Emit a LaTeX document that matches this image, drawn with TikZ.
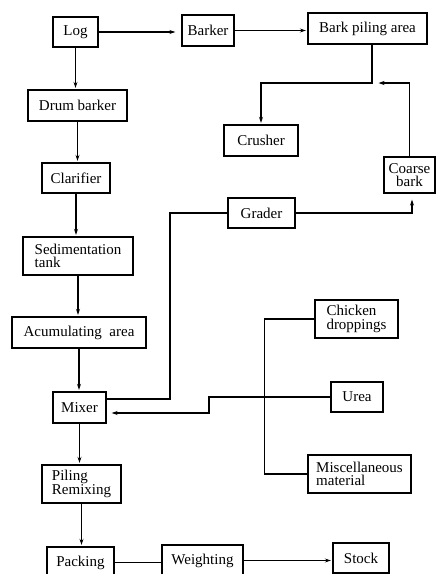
\documentclass[tikz,border=0pt]{standalone}
\usepackage{fontspec}
\setmainfont{Liberation Serif}
\usetikzlibrary{arrows.meta}

\begin{document}
\begin{tikzpicture}[x=1pt,y=-1pt,line width=1.1pt,
    box/.style={draw, line width=1.3pt, inner sep=0pt, font={\fontsize{15}{13.5}\selectfont}},
    arr/.style={-{Stealth[length=6pt,width=4pt]}, shorten >=1.5pt}]
      \fill[white] (0,0) rectangle (437,574);
      \useasboundingbox (0,0) rectangle (437,574);
      % boxes
      \node[name=log, box, minimum width=45pt, minimum height=30pt] at (75.5,32){Log};
      \node[name=barker, box, minimum width=52pt, minimum height=31pt] at (208,30.5){Barker};
      \node[name=bark, box, minimum width=119pt, minimum height=31pt] at (367.5,28.5){Bark piling area};
      \node[name=drum, box, minimum width=99pt, minimum height=31pt] at (77.5,105.5){Drum barker};
      \node[name=crusher, box, minimum width=74pt, minimum height=31pt] at (261,140.5){Crusher};
      \node[name=clarifier, box, minimum width=68pt, minimum height=30pt] at (76,178){Clarifier};
      \node[name=coarse, box, minimum width=51pt, minimum height=36pt, align=center] at (409.5,175){Coarse\\bark};
      \node[name=grader, box, minimum width=67pt, minimum height=30pt] at (261.5,213){Grader};
      \node[name=sed, box, minimum width=110pt, minimum height=38pt, align=left] at (78,256){Sedimentation\\tank};
      \node[name=acum, box, minimum width=134pt, minimum height=31pt] at (79,332.5){Acumulating\ \ area};
      \node[name=chicken, box, minimum width=83pt, minimum height=38pt, align=left] at (356.5,319){Chicken\\droppings};
      \node[name=mixer, box, minimum width=53pt, minimum height=31pt] at (79.5,407.5){Mixer};
      \node[name=urea, box, minimum width=52pt, minimum height=30pt] at (357,397){Urea};
      \node[name=misc, box, minimum width=103pt, minimum height=38pt, align=left] at (359.5,474){Miscellaneous\\material};
      \node[name=piling, box, minimum width=79pt, minimum height=38pt, align=left] at (81.5,484){Piling\\Remixing};
      \node[name=packing, box, minimum width=67pt, minimum height=31pt] at (80.5,562.5){Packing};
      \node[name=weighting, box, minimum width=81pt, minimum height=31pt] at (202.5,560.5){Weighting};
      \node[name=stock, box, minimum width=56pt, minimum height=30pt] at (361,558){Stock};
      % bends
      \coordinate (j1) at (372,83);
      \coordinate (g1) at (170,399);
      \coordinate (u1) at (209,413);
      % main line
      \draw[arr] (log) -- (log |- drum.north);
      \draw[arr] (drum) -- (drum |- clarifier.north);
      \draw[arr] (clarifier) -- (clarifier |- sed.north);
      \draw[arr] (sed) -- (sed |- acum.north);
      \draw[arr] (acum) -- (acum |- mixer.north);
      \draw[arr] (mixer) -- (mixer |- piling.north);
      \draw[arr] (piling) -- (piling |- packing.north);
      \draw (packing) -- (packing -| weighting.west);
      \draw[arr] (weighting) -- (weighting -| stock.west);
      % bark
      \draw[arr, shorten >=6pt] (log) -- (log -| barker.west);
      \draw[arr] (barker) -- (barker -| bark.west);
      \draw[arr] (bark.south -| j1) -- (j1) -| (crusher.north);
      \draw[arr] (coarse.north) |- ([xshift=5pt]j1);
      \draw[arr, shorten >=6pt] (grader.east) -| ([xshift=2.5pt]coarse.south);
      \draw (grader.west) -| (g1) -- (g1 -| mixer.east);
      % additives
      \draw[arr, shorten >=5pt] (urea.west) -| (u1) -- (u1 -| mixer.east);
      \draw (chicken.west) -- ++(-50,0) |- (misc.west);
   \end{tikzpicture}
\end{document}
